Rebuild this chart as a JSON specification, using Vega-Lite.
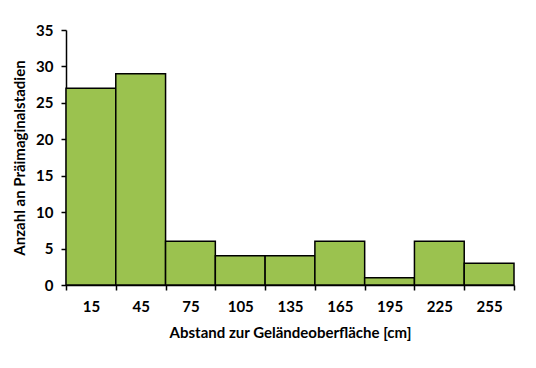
{
  "$schema": "https://vega.github.io/schema/vega-lite/v6.json",
  "autosize": {"type": "none"},
  "width": 448,
  "height": 255,
  "padding": {"left": 66, "top": 30, "right": 22, "bottom": 83},
  "background": "white",
  "config": {
    "view": {"stroke": null},
    "font": "Lato",
    "axis": {
      "domainColor": "black",
      "domainWidth": 1.5,
      "tickColor": "black",
      "tickWidth": 1.5,
      "tickSize": 5,
      "grid": false,
      "labelFont": "Lato",
      "labelFontWeight": "bold",
      "labelFontSize": 15,
      "labelColor": "black",
      "titleFont": "Lato",
      "titleFontWeight": "bold",
      "titleFontSize": 15,
      "titleColor": "black"
    }
  },
  "data": {
    "values": [
      {"Abstand": 15, "von": 0, "bis": 30, "Anzahl": 27},
      {"Abstand": 45, "von": 30, "bis": 60, "Anzahl": 29},
      {"Abstand": 75, "von": 60, "bis": 90, "Anzahl": 6},
      {"Abstand": 105, "von": 90, "bis": 120, "Anzahl": 4},
      {"Abstand": 135, "von": 120, "bis": 150, "Anzahl": 4},
      {"Abstand": 165, "von": 150, "bis": 180, "Anzahl": 6},
      {"Abstand": 195, "von": 180, "bis": 210, "Anzahl": 1},
      {"Abstand": 225, "von": 210, "bis": 240, "Anzahl": 6},
      {"Abstand": 255, "von": 240, "bis": 270, "Anzahl": 3}
    ]
  },
  "mark": {"type": "rect", "fill": "#9BC24F", "stroke": "black", "strokeWidth": 1.5},
  "encoding": {
    "x": {
      "field": "von",
      "type": "quantitative",
      "scale": {"domain": [0, 270], "nice": false, "zero": false},
      "axis": {
        "title": "Abstand zur Geländeoberfläche [cm]",
        "values": [0, 30, 60, 90, 120, 150, 180, 210, 240, 270],
        "labelExpr": "datum.value < 270 ? datum.value + 15 : ''",
        "labelOffset": 24.9,
        "labelPadding": 9,
        "labelFlush": false,
        "labelOverlap": false,
        "titlePadding": 11
      }
    },
    "x2": {"field": "bis"},
    "y": {
      "field": "Anzahl",
      "type": "quantitative",
      "scale": {"domain": [0, 35], "nice": false},
      "axis": {
        "title": "Anzahl an Präimaginalstadien",
        "values": [0, 5, 10, 15, 20, 25, 30, 35],
        "labelPadding": 8,
        "titlePadding": 8
      }
    },
    "y2": {"datum": 0}
  }
}
